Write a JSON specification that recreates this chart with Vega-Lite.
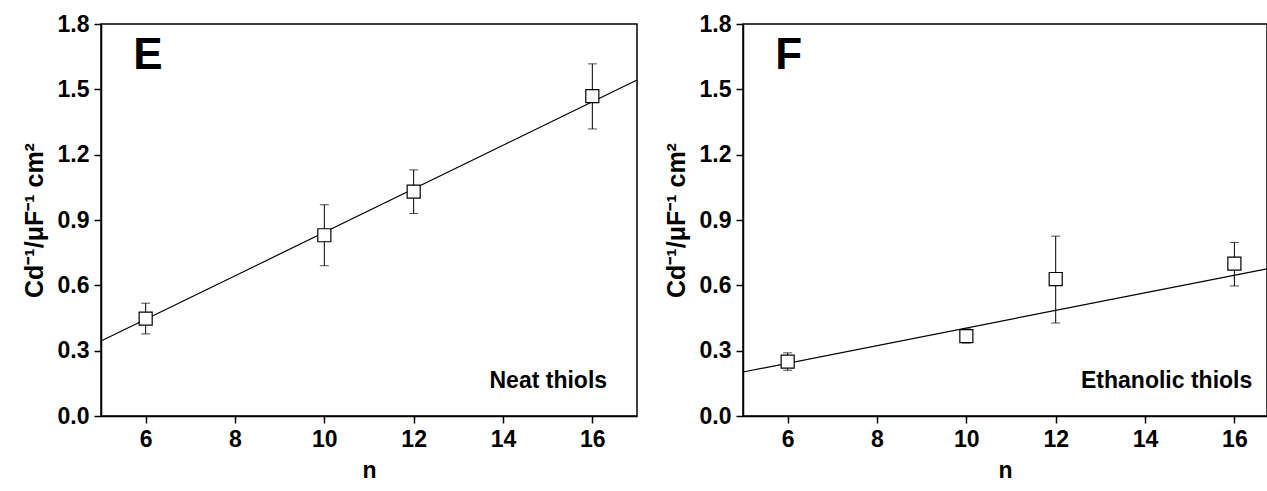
{
  "$schema": "https://vega.github.io/schema/vega-lite/v6.json",
  "padding": {"left": 21, "top": 12, "right": 0, "bottom": 0},
  "background": "white",
  "datasets": {
    "pts": [
      {"panel": "E", "n": 6, "c": 0.447, "lo": 0.377, "hi": 0.518},
      {"panel": "E", "n": 10, "c": 0.83, "lo": 0.69, "hi": 0.97},
      {"panel": "E", "n": 12, "c": 1.03, "lo": 0.93, "hi": 1.13},
      {"panel": "E", "n": 16, "c": 1.469, "lo": 1.318, "hi": 1.617},
      {"panel": "F", "n": 6, "c": 0.25, "lo": 0.21, "hi": 0.29},
      {"panel": "F", "n": 10, "c": 0.367, "lo": 0.335, "hi": 0.40},
      {"panel": "F", "n": 12, "c": 0.629, "lo": 0.427, "hi": 0.826},
      {"panel": "F", "n": 16, "c": 0.70, "lo": 0.597, "hi": 0.797}
    ],
    "fit": [
      {"panel": "E", "n": 5, "c": 0.344},
      {"panel": "E", "n": 17, "c": 1.543},
      {"panel": "F", "n": 5, "c": 0.202},
      {"panel": "F", "n": 16.73, "c": 0.676}
    ],
    "labels": [
      {"panel": "E", "kind": "big", "n": 5.72, "c": 1.593, "text": "E"},
      {"panel": "E", "kind": "note", "n": 16.33, "c": 0.129, "text": "Neat thiols"},
      {"panel": "F", "kind": "big", "n": 5.72, "c": 1.593, "text": "F"},
      {"panel": "F", "kind": "note", "n": 16.4, "c": 0.129, "text": "Ethanolic thiols"}
    ]
  },
  "config": {
    "font": "Liberation Sans",
    "view": {"stroke": "black", "strokeWidth": 1.5},
    "axis": {
      "labelFont": "Liberation Sans", "labelFontWeight": "bold", "labelFontSize": 23, "labelColor": "black",
      "titleFont": "Liberation Sans", "titleFontWeight": "bold", "titleFontSize": 23, "titleColor": "black",
      "domainColor": "black", "domainWidth": 1.5, "tickColor": "black", "tickWidth": 1.5, "tickSize": 7,
      "grid": false, "labelFlush": false, "labelOverlap": false, "labelPadding": 5
    },
    "axisY": {"titleFontSize": 25}
  },
  "hconcat": [
    {
      "width": 536, "height": 392,
      "layer": [
        {
          "data": {"name": "fit"},
          "transform": [{"filter": "datum.panel === 'E'"}],
          "mark": {"type": "line", "color": "black", "strokeWidth": 1.2},
          "encoding": {
            "x": {"field": "n", "type": "quantitative", "title": "n", "scale": {"domain": [5, 17], "nice": false, "zero": false},
                  "axis": {"values": [6, 8, 10, 12, 14, 16], "format": "d", "titlePadding": 8}},
            "y": {"field": "c", "type": "quantitative", "title": "Cd⁻¹/μF⁻¹ cm²", "scale": {"domain": [0, 1.8], "nice": false},
                  "axis": {"values": [0, 0.3, 0.6, 0.9, 1.2, 1.5, 1.8], "format": ".1f", "titlePadding": 10}}
          }
        },
        {
          "data": {"name": "pts"},
          "transform": [{"filter": "datum.panel === 'E'"}],
          "mark": {"type": "errorbar", "color": "black", "thickness": 1, "ticks": {"size": 9, "thickness": 1, "color": "black"}},
          "encoding": {
            "x": {"field": "n", "type": "quantitative", "title": "n"},
            "y": {"field": "lo", "type": "quantitative", "title": "Cd⁻¹/μF⁻¹ cm²"},
            "y2": {"field": "hi"}
          }
        },
        {
          "data": {"name": "pts"},
          "transform": [{"filter": "datum.panel === 'E'"}],
          "mark": {"type": "point", "shape": "square", "size": 170, "filled": true, "fill": "white", "stroke": "black", "strokeWidth": 1.2, "opacity": 1},
          "encoding": {
            "x": {"field": "n", "type": "quantitative", "title": "n"},
            "y": {"field": "c", "type": "quantitative", "title": "Cd⁻¹/μF⁻¹ cm²"}
          }
        },
        {
          "data": {"name": "labels"},
          "transform": [{"filter": "datum.panel === 'E' && datum.kind === 'big'"}],
          "mark": {"type": "text", "align": "left", "baseline": "alphabetic", "fontSize": 44, "fontWeight": "bold", "color": "black"},
          "encoding": {
            "x": {"field": "n", "type": "quantitative", "title": "n"},
            "y": {"field": "c", "type": "quantitative", "title": "Cd⁻¹/μF⁻¹ cm²"},
            "text": {"field": "text"}
          }
        },
        {
          "data": {"name": "labels"},
          "transform": [{"filter": "datum.panel === 'E' && datum.kind === 'note'"}],
          "mark": {"type": "text", "align": "right", "baseline": "alphabetic", "fontSize": 23, "fontWeight": "bold", "color": "black"},
          "encoding": {
            "x": {"field": "n", "type": "quantitative", "title": "n"},
            "y": {"field": "c", "type": "quantitative", "title": "Cd⁻¹/μF⁻¹ cm²"},
            "text": {"field": "text"}
          }
        }
      ]
    },
    {
      "width": 524, "height": 392,
      "layer": [
        {
          "data": {"name": "fit"},
          "transform": [{"filter": "datum.panel === 'F'"}],
          "mark": {"type": "line", "color": "black", "strokeWidth": 1.2},
          "encoding": {
            "x": {"field": "n", "type": "quantitative", "title": "n", "scale": {"domain": [5, 16.73], "nice": false, "zero": false},
                  "axis": {"values": [6, 8, 10, 12, 14, 16], "format": "d", "titlePadding": 8}},
            "y": {"field": "c", "type": "quantitative", "title": "Cd⁻¹/μF⁻¹ cm²", "scale": {"domain": [0, 1.8], "nice": false},
                  "axis": {"values": [0, 0.3, 0.6, 0.9, 1.2, 1.5, 1.8], "format": ".1f", "titlePadding": 10}}
          }
        },
        {
          "data": {"name": "pts"},
          "transform": [{"filter": "datum.panel === 'F'"}],
          "mark": {"type": "errorbar", "color": "black", "thickness": 1, "ticks": {"size": 9, "thickness": 1, "color": "black"}},
          "encoding": {
            "x": {"field": "n", "type": "quantitative", "title": "n"},
            "y": {"field": "lo", "type": "quantitative", "title": "Cd⁻¹/μF⁻¹ cm²"},
            "y2": {"field": "hi"}
          }
        },
        {
          "data": {"name": "pts"},
          "transform": [{"filter": "datum.panel === 'F'"}],
          "mark": {"type": "point", "shape": "square", "size": 170, "filled": true, "fill": "white", "stroke": "black", "strokeWidth": 1.2, "opacity": 1},
          "encoding": {
            "x": {"field": "n", "type": "quantitative", "title": "n"},
            "y": {"field": "c", "type": "quantitative", "title": "Cd⁻¹/μF⁻¹ cm²"}
          }
        },
        {
          "data": {"name": "labels"},
          "transform": [{"filter": "datum.panel === 'F' && datum.kind === 'big'"}],
          "mark": {"type": "text", "align": "left", "baseline": "alphabetic", "fontSize": 44, "fontWeight": "bold", "color": "black"},
          "encoding": {
            "x": {"field": "n", "type": "quantitative", "title": "n"},
            "y": {"field": "c", "type": "quantitative", "title": "Cd⁻¹/μF⁻¹ cm²"},
            "text": {"field": "text"}
          }
        },
        {
          "data": {"name": "labels"},
          "transform": [{"filter": "datum.panel === 'F' && datum.kind === 'note'"}],
          "mark": {"type": "text", "align": "right", "baseline": "alphabetic", "fontSize": 23, "fontWeight": "bold", "color": "black"},
          "encoding": {
            "x": {"field": "n", "type": "quantitative", "title": "n"},
            "y": {"field": "c", "type": "quantitative", "title": "Cd⁻¹/μF⁻¹ cm²"},
            "text": {"field": "text"}
          }
        }
      ]
    }
  ],
  "spacing": 106,
  "bounds": "flush"
}
